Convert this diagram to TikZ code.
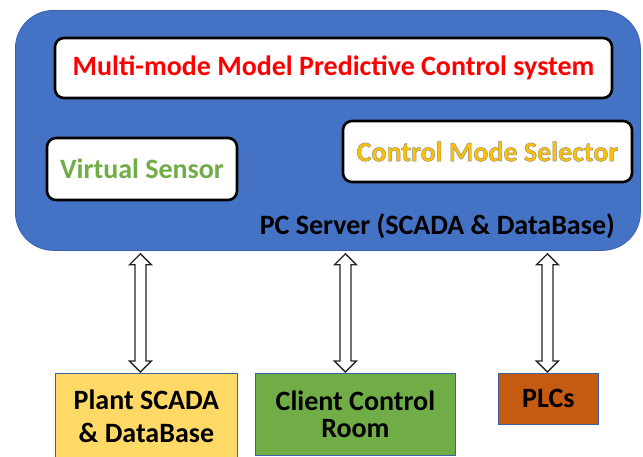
\documentclass[tikz,border=0pt]{standalone}
\usepackage{fontspec}
\setmainfont{Carlito}
\usetikzlibrary{calc}
\definecolor{srvblue}{HTML}{4472C4}
\definecolor{srvedge}{HTML}{3A62AE}
\definecolor{mpcred}{HTML}{FF0000}
\definecolor{vsgreen}{HTML}{70AD47}
\definecolor{cmsgold}{HTML}{FFC000}
\definecolor{plantyellow}{HTML}{FFD966}
\definecolor{roomgreen}{HTML}{70AD47}
\definecolor{plcorange}{HTML}{C55A11}
% hollow two-headed arrow between two points on one vertical line
\newcommand\dblarrow[2]{%
  \draw[dbl] let \p1=(#1), \p2=(#2) in
    (\x1,\y1) -- (\x1+11pt,\y1-11pt) -- (\x1+5.5pt,\y1-11pt)
    -- (\x2+5.5pt,\y2+11pt) -- (\x2+11pt,\y2+11pt) -- (\x2,\y2)
    -- (\x2-11pt,\y2+11pt) -- (\x2-5.5pt,\y2+11pt)
    -- (\x1-5.5pt,\y1-11pt) -- (\x1-11pt,\y1-11pt) -- cycle;}
% gold lettering with a thin grey outline
\newcommand\outlined[1]{%
  \special{pdf:literal direct 2 Tr 0.45 w 0.55 0.55 0.55 RG}#1\special{pdf:literal direct 0 Tr}}
\begin{document}
\begin{tikzpicture}[x=1pt,y=-1pt,
  panel/.style={draw=black, line width=2.6pt, fill=white, rounded corners=9pt,
    inner sep=0pt, font=\bfseries\fontsize{28}{30}\selectfont},
  unit/.style={draw=srvblue!85!black, line width=0.8pt, inner sep=0pt,
    anchor=north west, align=center, text=black,
    font=\bfseries\fontsize{28}{33}\selectfont},
  dbl/.style={draw=black!85, line width=1.3pt, fill=white, line join=miter}]
\clip (0,0) rectangle (643,456);
\fill[white] (0,0) rectangle (643,456);

% server enclosure
\node[fill=srvblue, draw=srvedge, line width=0.8pt, rounded corners=38pt,
  inner sep=0pt, minimum width=625pt, minimum height=240pt, anchor=north west]
  (server) at (15,10) {};

% software blocks on the server
\node[panel, minimum width=557pt, minimum height=60pt, text=mpcred]
  (mpc) at (333.5,68) {Multi-mode Model Predictive Control system};
\node[panel, minimum width=190pt, minimum height=62pt, text=vsgreen]
  (vs) at (142,169) {Virtual Sensor};
\node[panel, minimum width=289pt, minimum height=61pt, text=cmsgold]
  (cms) at (487.5,151.5) {\outlined{Control Mode Selector}};
\node[anchor=east, inner sep=0pt, font=\bfseries\fontsize{28}{30}\selectfont]
  (srvlabel) at (615,226) {PC Server (SCADA \& DataBase)};

% field units
\node[unit, fill=plantyellow, minimum width=182pt, minimum height=86pt]
  (plant) at (55,373) {Plant SCADA\\\& DataBase};
\node[unit, fill=roomgreen, minimum width=200pt, minimum height=82pt]
  (room) at (255,373) {Client Control\\[-6pt]Room};
\node[unit, fill=plcorange, minimum width=100pt, minimum height=51pt]
  (plc) at (498,373) {PLCs};

% links
\dblarrow{$(server.south -| plant.north)+(-6,3)$}{$(plant.north)+(-6,-1)$}
\dblarrow{$(server.south -| room.north)+(-10,3)$}{$(room.north)+(-10,-1)$}
\dblarrow{$(server.south -| plc.north)+(-1,3)$}{$(plc.north)+(-1,-1)$}
\end{tikzpicture}
\end{document}
